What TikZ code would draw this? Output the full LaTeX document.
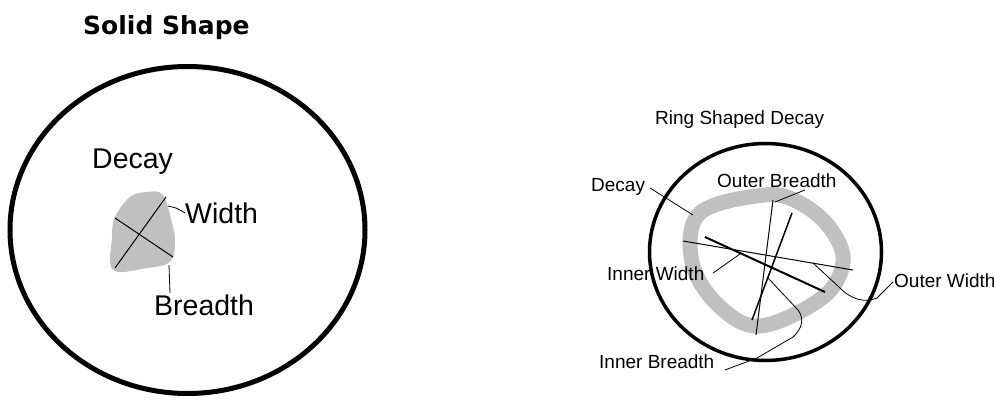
\documentclass[tikz,border=0pt]{standalone}
\usepackage{fontspec}
\setmainfont{Liberation Sans}
\newfontfamily\titlefont{DejaVu Sans}
\definecolor{decaygrey}{RGB}{192,192,192}
\begin{document}
\begin{tikzpicture}[x=1pt,y=-1pt,
  lbl/.style={anchor=base west,inner sep=0pt,font=\fontsize{19}{19}\selectfont},
  biglbl/.style={anchor=base west,inner sep=0pt,font=\fontsize{28.5}{28.5}\selectfont},
  ttl/.style={anchor=base west,inner sep=0pt},
  thin/.style={line width=1pt},
  leader/.style={line width=0.8pt}]
\useasboundingbox (0,0) rectangle (994,401);
% ---------- left: solid shape ----------
\node[ttl,font=\titlefont\bfseries\fontsize{25}{25}\selectfont] (t1) at (83,35) {Solid Shape};
\draw[line width=5pt] (187.5,230) ellipse [x radius=177.5,y radius=163.5];
\fill[decaygrey] plot[smooth cycle,tension=0.6] coordinates {(130,197) (147,192) (163,195) (172,223) (175,243) (170,262) (147,268) (113,270) (112,237) (115,217)};
\coordinate (w1) at (115,218); \coordinate (w2) at (173,257);
\coordinate (b1) at (115,268); \coordinate (b2) at (166,197);
\draw[thin] (w1) -- (w2);
\draw[thin] (b1) -- (b2);
\node[biglbl] (ldecay) at (92,168) {Decay};
\node[biglbl] (lwidth) at (185,223) {Width};
\node[biglbl] (lbreadth) at (154,315) {Breadth};
\coordinate (wl) at (168,206);
\draw[leader] (wl) -- (176,208) -- (lwidth.west);
\coordinate (bl) at (169,265);
\draw[leader] (bl) -- (170,293);
% ---------- right: ring shaped decay ----------
\node[lbl] (t2) at (655,125) {Ring Shaped Decay};
\draw[line width=15pt,decaygrey] plot[smooth cycle,tension=0.6] coordinates {(765,195) (800,203) (830,228) (843,262) (822,298) (760,326) (718,305) (692,262) (700,213)};
\draw[line width=3.5pt] (765.5,252) ellipse [x radius=116,y radius=108.5];
\coordinate (iw1) at (705,237); \coordinate (iw2) at (825,292);
\coordinate (ow1) at (683,241); \coordinate (ow2) at (853,270);
\coordinate (ob1) at (773,200); \coordinate (ob2) at (756,335);
\coordinate (ib1) at (792,213); \coordinate (ib2) at (752,320);
\draw[line width=2pt] (iw1) -- (iw2);
\draw[thin] (ow1) -- (ow2);
\draw[thin] (ob1) -- (ob2);
\draw[line width=1.5pt] (ib1) -- (ib2);
\node[lbl] (rdecay) at (591,192) {Decay};
\node[lbl] (rob) at (717,188) {Outer Breadth};
\node[lbl] (riw) at (607,280) {Inner Width};
\node[lbl] (row) at (894,287) {Outer Width};
\node[lbl] (rib) at (599,368) {Inner Breadth};
\coordinate (dl) at (693,215);
\draw[leader] (650,188) -- (dl);
\coordinate (obl) at (775,202);
\draw[leader] (805,190) -- (obl);
\coordinate (iwl) at (740,254);
\draw[leader] (713,273) -- (iwl);
\coordinate (owl) at (813,263);
\draw[leader] (893,282) -- (877,298) .. controls (865,303) and (852,300) .. (840,288) -- (owl);
\coordinate (ibl) at (768,278);
\draw[leader] (ibl) -- (798,310) .. controls (804,318) and (803,328) .. (793,337) -- (757,358) -- (725,370);
\end{tikzpicture}
\end{document}
